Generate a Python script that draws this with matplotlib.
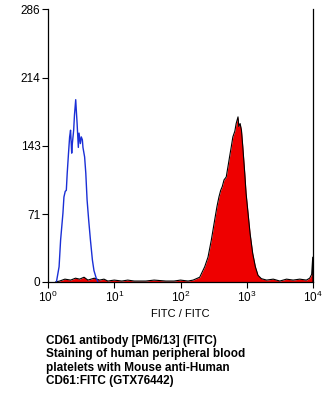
import matplotlib
matplotlib.use("Agg")
import matplotlib.pyplot as plt

plt.rcParams['font.family'] = ['Liberation Sans', 'DejaVu Sans']
plt.rcParams['mathtext.fontset'] = 'custom'
plt.rcParams['mathtext.rm'] = 'Liberation Sans'
plt.rcParams['mathtext.it'] = 'Liberation Sans'
plt.rcParams['mathtext.bf'] = 'Liberation Sans:bold'

# isotype control (blue outline)
ctrl_x = [1.34, 1.47, 1.55, 1.68, 1.74, 1.82, 1.89, 1.95, 2.04, 2.12, 2.19, 2.28,
          2.33, 2.44, 2.51, 2.62, 2.69, 2.75, 2.87, 2.94, 3.08, 3.18, 3.30, 3.37,
          3.57, 3.72, 3.89, 4.11, 4.37, 4.68, 4.94, 5.37, 5.69]
ctrl_y = [0, 16, 44, 72, 89, 95, 96, 114, 135, 152, 159, 135,
          145, 159, 175, 191, 177, 166, 141, 156, 145, 152, 149, 141,
          131, 114, 86, 65, 44, 23, 12, 3.5, 0]

# CD61 stained sample (red fill, black outline)
stain_x = [1.3, 1.5, 1.8, 2.2, 2.6, 3.0, 3.5, 4.0, 5.0, 6.0, 7.0, 8.0, 10, 13, 16,
           20, 30, 40, 60, 80, 100, 130,
           155, 195, 232, 260, 292, 328, 355, 380, 404, 427, 454, 490, 521, 550,
           585, 617, 661, 692, 738, 759, 794, 832, 871, 933, 977, 1047, 1122,
           1230, 1349, 1479, 1660,
           1995, 2512, 3162, 3981, 5012, 6310, 7943, 8913, 9550, 9900, 10000]
stain_y = [0, 1, 3, 2, 4, 3, 5, 2, 4, 2, 3, 1, 2, 1, 2,
           1, 1, 2, 1, 1, 2, 1,
           2, 5, 16, 26, 44, 65, 79, 89, 96, 100, 107, 110, 121, 131,
           142, 152, 158, 166, 173, 163, 166, 159, 142, 114, 93, 72, 51,
           30, 16, 7, 3.5,
           2, 3, 1, 3, 2, 3, 2, 4, 8, 26, 0]

y_ticks = [0, 71, 143, 214, 286]
x_ticks = [1, 10, 100, 1000, 10000]
x_labels = ['$10^{0}$', '$10^{1}$', '$10^{2}$', '$10^{3}$', '$10^{4}$']

caption = ("CD61 antibody [PM6/13] (FITC)\n"
           "Staining of human peripheral blood\n"
           "platelets with Mouse anti-Human\n"
           "CD61:FITC (GTX76442)")

fig = plt.figure(figsize=(3.24, 4.0), dpi=100)
ax = fig.add_axes([48 / 324, 1 - 282 / 400, 265 / 324, 273 / 400])

ax.fill_between(stain_x, stain_y, 0, color='#ee0000', lw=0)
ax.plot(stain_x, stain_y, color='black', lw=0.8)
ax.plot(ctrl_x, ctrl_y, color='#1a2fd6', lw=1.0)

ax.set_xscale('log')
ax.set_xlim(1, 10000)
ax.set_ylim(0, 286)
ax.set_xticks(x_ticks)
ax.set_xticklabels(x_labels)
ax.minorticks_off()
ax.set_yticks(y_ticks)
ax.tick_params(axis='both', labelsize=8.5, length=4, width=0.8, pad=1.5)
ax.spines['top'].set_visible(False)
for s in ['left', 'bottom', 'right']:
    ax.spines[s].set_linewidth(0.9)
ax.set_xlabel('FITC / FITC', fontsize=8, labelpad=3)

fig.text(46 / 324, 1 - 335 / 400, caption, fontsize=8.5, fontweight='bold',
         va='top', ha='left', linespacing=1.15)

fig.savefig('out.png', dpi=100)
